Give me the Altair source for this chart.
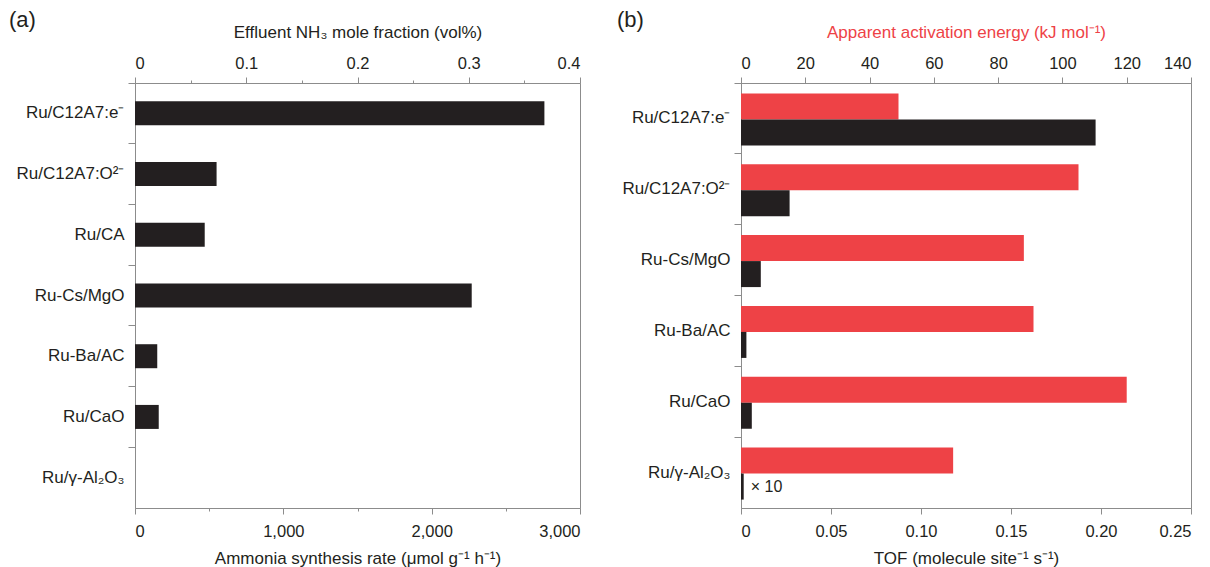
import altair as alt
import pandas as pd

# ---------------- data ----------------
cats_a = ["Ru/C12A7:e⁻", "Ru/C12A7:O²⁻", "Ru/CA", "Ru-Cs/MgO", "Ru-Ba/AC", "Ru/CaO", "Ru/γ-Al₂O₃"]
rate_a = [2760, 550, 470, 2270, 150, 160, 0]

cats_b = ["Ru/C12A7:e⁻", "Ru/C12A7:O²⁻", "Ru-Cs/MgO", "Ru-Ba/AC", "Ru/CaO", "Ru/γ-Al₂O₃"]
ea_b = [49, 105, 88, 91, 120, 66]
tof_b = [0.197, 0.027, 0.011, 0.003, 0.006, 0.0015]
note_b = ["", "", "", "", "", "× 10"]

rate_ticks = [0, 500, 1000, 1500, 2000, 2500, 3000]
frac_ticks = [0, 0.05, 0.1, 0.15, 0.2, 0.25, 0.3, 0.35, 0.4]
ea_ticks = [0, 20, 40, 60, 80, 100, 120, 140]
tof_ticks = [0, 0.05, 0.1, 0.15, 0.2, 0.25]

df_a = pd.DataFrame({"cat": cats_a, "rate": rate_a})
df_b = pd.DataFrame({"cat": cats_b, "ea": ea_b, "tof": tof_b, "note": note_b})

FONT = "Liberation Sans"
RED = "#EE4246"
BLACK = "#231F20"
AX = "#8C8C8C"
TXT = "#231F20"

W_A, W_B, H = 445, 450, 425


def yaxis():
    return alt.Axis(title=None, bandPosition=0, tickSize=7, labelPadding=4,
                    labelFontSize=17, labelLimit=200)


# ---------------- panel (a) ----------------
ya = alt.Y("cat:N", sort=cats_a, scale=alt.Scale(paddingInner=0, paddingOuter=0), axis=yaxis())

bars_a = alt.Chart(df_a).mark_bar(size=24, color=BLACK).encode(
    y=ya,
    x=alt.X("rate:Q", scale=alt.Scale(domain=[0, 3000], nice=False),
            axis=alt.Axis(orient="bottom", values=rate_ticks,
                          labelExpr="datum.value % 1000 == 0 ? format(datum.value, ',') : ''",
                          tickSize={"condition": {"test": "datum.value % 1000 == 0", "value": 6}, "value": 3},
                          labelPadding=9, titlePadding=11,
                          title="Ammonia synthesis rate (μmol g⁻¹ h⁻¹)")),
)

top_a = alt.Chart(df_a).mark_point(opacity=0).encode(
    x=alt.XDatum(0, type="quantitative", scale=alt.Scale(domain=[0, 0.4], nice=False),
                 axis=alt.Axis(orient="top", values=frac_ticks,
                               labelExpr="abs(datum.value*10 - round(datum.value*10)) < 0.001 ? format(datum.value, '.1~f') : ''",
                               tickSize={"condition": {"test": "abs(datum.value*10 - round(datum.value*10)) < 0.001", "value": 6}, "value": 3},
                               labelPadding=6, titlePadding=14,
                               title="Effluent NH₃ mole fraction (vol%)")),
)

lab_a = alt.Chart(pd.DataFrame({"t": ["(a)"]})).mark_text(
    fontSize=22, font=FONT, color=TXT, align="left", baseline="middle"
).encode(text="t:N", x=alt.value(-126), y=alt.value(-63))

panel_a = alt.layer(bars_a, top_a, lab_a).resolve_scale(x="independent").properties(width=W_A, height=H)

# ---------------- panel (b) ----------------
yb = alt.Y("cat:N", sort=cats_b, scale=alt.Scale(paddingInner=0, paddingOuter=0), axis=yaxis())

red_b = alt.Chart(df_b).mark_bar(size=26, color=RED, yOffset=-12).encode(
    y=yb,
    x=alt.X("ea:Q", scale=alt.Scale(domain=[0, 140], nice=False),
            axis=alt.Axis(orient="top", values=ea_ticks, tickSize=6, labelPadding=6, titlePadding=14,
                          titleColor=RED, title="Apparent activation energy (kJ mol⁻¹)")),
)

xtof = alt.X("tof:Q", scale=alt.Scale(domain=[0, 0.25], nice=False),
             axis=alt.Axis(orient="bottom", values=tof_ticks, tickSize=6,
                           labelExpr="datum.value == 0 ? '0' : format(datum.value, '.2f')",
                           labelPadding=9, titlePadding=11,
                           title="TOF (molecule site⁻¹ s⁻¹)"))

black_b = alt.Chart(df_b).mark_bar(size=26, color=BLACK, yOffset=14).encode(y=yb, x=xtof)

note_b_layer = alt.Chart(df_b).transform_filter("datum.note != ''").mark_text(
    fontSize=16, font=FONT, color=TXT, align="left", baseline="middle", dx=7, yOffset=14
).encode(y=yb, x=xtof, text="note:N")

lab_b = alt.Chart(pd.DataFrame({"t": ["(b)"]})).mark_text(
    fontSize=22, font=FONT, color=TXT, align="left", baseline="middle"
).encode(text="t:N", x=alt.value(-124), y=alt.value(-63))

panel_b = alt.layer(red_b, alt.layer(black_b, note_b_layer), lab_b).resolve_scale(x="independent").properties(width=W_B, height=H)

chart = alt.hconcat(panel_a, panel_b, spacing=161, bounds="flush").properties(
    padding={"left": 8, "top": 8, "right": 5, "bottom": 5}
).configure_view(stroke=AX, strokeWidth=1).configure_axis(
    grid=False, domainColor=AX, tickColor=AX, labelColor=TXT, titleColor=TXT,
    labelFont=FONT, titleFont=FONT, labelFontSize=16.5, titleFontSize=17,
    titleFontWeight="normal"
)

chart.save("out.html", embed_options={"renderer": "svg", "actions": False})
